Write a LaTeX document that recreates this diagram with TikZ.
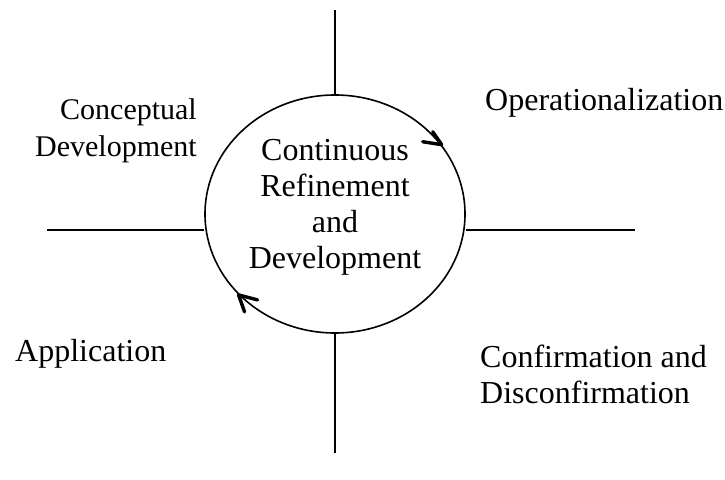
\documentclass[tikz,border=0pt]{standalone}
\usepackage{fontspec}
\setmainfont{Liberation Serif}
\usetikzlibrary{shapes.geometric}

\tikzset{
  label text/.style={font=\fontsize{32}{36}\selectfont, inner sep=0pt},
  axis line/.style={line width=1.6pt},
  arrow head/.style={line width=3.4pt, line cap=round, line join=round}
}

\begin{document}
\begin{tikzpicture}[x=1pt, y=1pt]
        \useasboundingbox (0,0) rectangle (725,479);
        % the cycle in the middle
        \node[draw, ellipse, line width=1.6pt, minimum width=260pt, minimum height=238pt, inner sep=0pt] (core) at (335,265) {};
        \node[label text, align=center] (coretext) at (335,272) {Continuous\\Refinement\\and\\Development};
        % heads on the cycle (clockwise)
        \draw[arrow head] ([shift={(-19,3)}]core.33) -- (core.33) -- ([shift={(-9,13)}]core.33);
        \draw[arrow head] ([shift={(19,-5)}]core.220) -- (core.220) -- ([shift={(6,-17)}]core.220);
        % the four lines
        \coordinate (topend) at (335,469);
        \coordinate (bottomend) at (335,26);
        \coordinate (leftend) at (47,249);
        \coordinate (rightend) at (635,249);
        \draw[axis line] (topend) -- (core.north);
        \draw[axis line] (bottomend) -- (core.south);
        \draw[axis line] (leftend) -- (leftend -| core.west);
        \draw[axis line] (rightend) -- (rightend -| core.east);
        % the four stages
        \node[label text, font=\fontsize{30}{37}\selectfont, align=right, anchor=east] (concept) at (197,348.5) {Conceptual\\Development};
        \node[label text, anchor=west] (operation) at (485,376) {Operationalization};
        \node[label text, anchor=west] (application) at (15,125) {Application};
        \node[label text, align=left, anchor=west] (confirm) at (480,105) {Confirmation and\\Disconfirmation};
\end{tikzpicture}
\end{document}
